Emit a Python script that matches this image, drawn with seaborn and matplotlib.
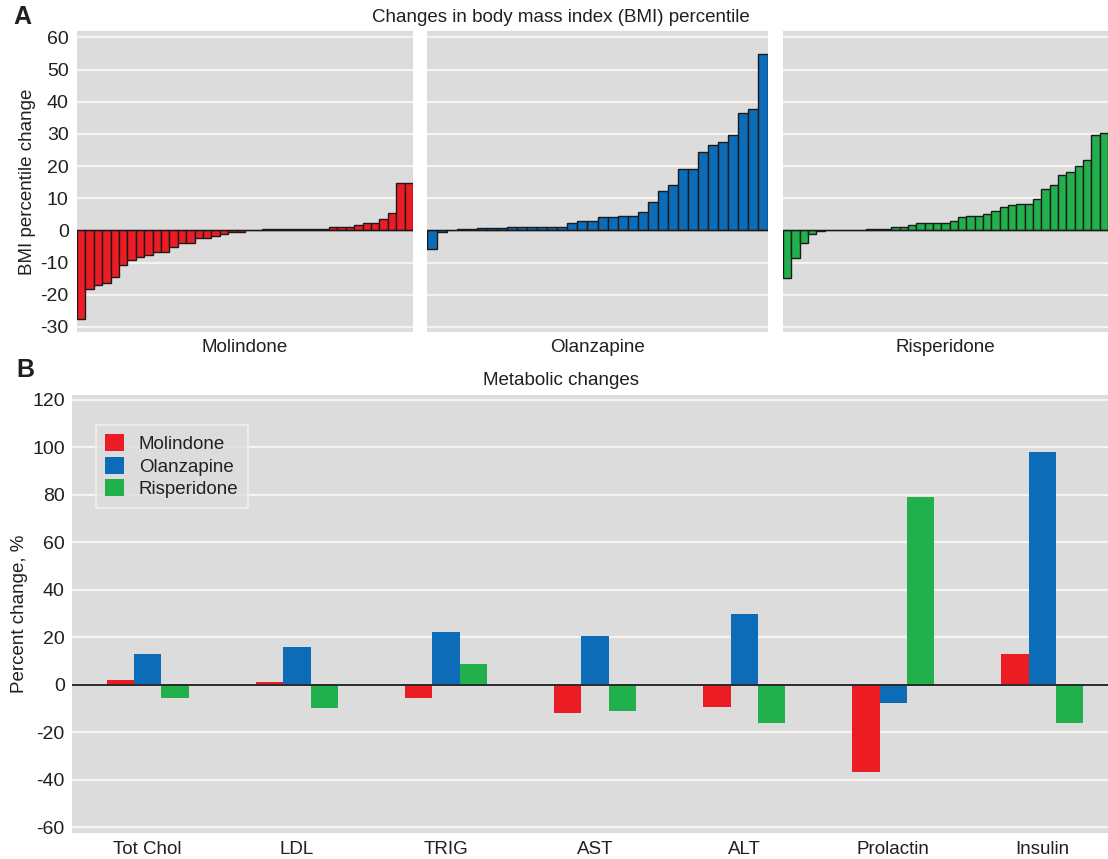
import numpy as np
import pandas as pd
import matplotlib
matplotlib.use("Agg")
import matplotlib.pyplot as plt
import seaborn as sns

sns.set_theme(style="darkgrid", rc={
    "axes.facecolor": "#dcdcdc",
    "grid.color": "#f8f3ef",
    "grid.linewidth": 1.6,
    "axes.edgecolor": "#dcdcdc",
})
plt.rcParams['font.family'] = ['Liberation Sans', 'DejaVu Sans']
plt.rcParams['axes.unicode_minus'] = False

# --- panel A: individual BMI percentile changes (sorted) ---
molindone_bmi = [-27.5, -18.1, -17.0, -16.3, -14.5, -10.9, -9.2, -8.4, -7.6, -6.7,
                 -6.7, -5.1, -3.8, -3.8, -2.4, -2.4, -1.8, -1.0, -0.5, -0.4,
                 0, 0, 0.3, 0.3, 0.3, 0.3, 0.5, 0.5, 0.5, 0.5,
                 1.2, 1.2, 1.2, 1.8, 2.2, 2.2, 3.6, 5.4, 14.7, 14.7]
olanzapine_bmi = [-5.7, -0.6, 0, 0.3, 0.4, 0.6, 0.7, 0.9, 1.0, 1.0,
                  1.0, 1.0, 1.1, 1.2, 2.2, 2.8, 2.8, 4.1, 4.1, 4.4,
                  4.4, 5.6, 8.9, 12.4, 14.2, 19.1, 19.1, 24.3, 26.6, 27.6,
                  29.8, 36.6, 37.6, 54.7]
risperidone_bmi = [-14.7, -8.7, -4.0, -1.1, -0.3, 0, 0, 0, 0, 0,
                   0.3, 0.3, 0.3, 1.0, 1.2, 1.8, 2.3, 2.3, 2.3, 2.3,
                   2.9, 4.1, 4.4, 4.4, 5.1, 6.1, 7.4, 7.9, 8.3, 8.3,
                   9.9, 12.9, 14.1, 17.1, 18.3, 20.1, 21.9, 29.7, 30.4]

drugs = ["Molindone", "Olanzapine", "Risperidone"]
drug_colors = ["#ec1c24", "#0c6cb7", "#22b04c"]

# --- panel B: metabolic changes ---
markers = ["Tot Chol", "LDL", "TRIG", "AST", "ALT", "Prolactin", "Insulin"]
molindone_pct = [1.8, 1.1, -5.7, -12.0, -9.5, -36.6, 12.8]
olanzapine_pct = [12.8, 15.9, 22.0, 20.5, 29.8, -7.8, 97.9]
risperidone_pct = [-5.7, -9.6, 8.8, -11.0, -16.3, 79.0, -16.3]

text_color = "#231f20"
fs = 13.5      # labels, titles, legend
tick_fs = 14   # y tick numbers

fig = plt.figure(figsize=(11.08, 8.59), dpi=100)
W, H = 1108, 859

# panel A axes, pixel boxes (left, right)
a_top, a_bot = 31, 331.7
a_boxes = [(77, 413), (427, 768), (783, 1108)]
bmi_sets = [molindone_bmi, olanzapine_bmi, risperidone_bmi]

for k, (x0, x1) in enumerate(a_boxes):
    ax = fig.add_axes([x0 / W, 1 - a_bot / H, (x1 - x0) / W, (a_bot - a_top) / H])
    vals = bmi_sets[k]
    sns.barplot(x=np.arange(len(vals)), y=vals, color=drug_colors[k], saturation=1,
                edgecolor="#1a1a1a", linewidth=1.0, width=1.0, ax=ax)
    ax.axhline(0, color="#1a1a1a", lw=1.0, zorder=1.5)
    ax.set_xlim(-0.5, len(vals) - 0.5)
    ax.set_ylim(-31.5, 62)
    ax.set_yticks(np.arange(-30, 61, 10))
    ax.set_xticks([])
    ax.set_xlabel(drugs[k], fontsize=fs, color=text_color, labelpad=5)
    ax.tick_params(axis="y", length=0, pad=6, labelsize=tick_fs, labelcolor=text_color)
    if k == 0:
        ax.set_ylabel("BMI percentile change", fontsize=fs, color=text_color, labelpad=3)
    else:
        ax.set_yticklabels([])
        ax.set_ylabel("")
    for s in ax.spines.values():
        s.set_visible(False)

fig.text(561 / W, 1 - 17 / H, "Changes in body mass index (BMI) percentile",
         ha="center", va="center", fontsize=fs, color=text_color)
fig.text(22 / W, 1 - 17 / H, "A", ha="center", va="center", fontsize=18,
         fontweight="bold", color=text_color)

# panel B
b_top, b_bot = 395, 832.7
axb = fig.add_axes([71.7 / W, 1 - b_bot / H, (W - 71.7) / W, (b_bot - b_top) / H])
df = pd.DataFrame({
    "marker": markers * 3,
    "change": molindone_pct + olanzapine_pct + risperidone_pct,
    "drug": [d for d in drugs for _ in markers],
})
sns.barplot(data=df, x="marker", y="change", hue="drug", order=markers,
            hue_order=drugs, palette=dict(zip(drugs, drug_colors)), saturation=1,
            width=0.55, errorbar=None, linewidth=0, ax=axb)
axb.axhline(0, color="#2a2a2a", lw=1.4, zorder=3)
axb.set_xlim(-0.51, 6.44)
axb.set_ylim(-62.3, 122)
axb.set_yticks(np.arange(-60, 121, 20))
axb.set_xlabel("")
axb.set_ylabel("Percent change, %", fontsize=fs, color=text_color, labelpad=3)
axb.tick_params(axis="y", length=0, pad=5, labelsize=tick_fs, labelcolor=text_color)
axb.tick_params(axis="x", length=0, pad=6, labelsize=fs, labelcolor=text_color)
axb.grid(axis="x", visible=False)
for s in axb.spines.values():
    s.set_visible(False)

leg = axb.legend(loc="upper left", bbox_to_anchor=(0.0232, 0.9315), borderaxespad=0,
                 fontsize=fs, frameon=True, handlelength=1.0, handleheight=1.0,
                 handletextpad=0.8, labelspacing=0.2, borderpad=0.5, fancybox=False)
leg.get_frame().set_facecolor("#dcdcdc")
leg.get_frame().set_edgecolor("#f4f0ec")
leg.get_frame().set_linewidth(1.5)
for t in leg.get_texts():
    t.set_color(text_color)

fig.text(561 / W, 1 - 381 / H, "Metabolic changes", ha="center", va="center",
         fontsize=fs, color=text_color)
fig.text(25 / W, 1 - 370 / H, "B", ha="center", va="center", fontsize=18,
         fontweight="bold", color=text_color)

fig.savefig("out.png", dpi=100, facecolor="white")
